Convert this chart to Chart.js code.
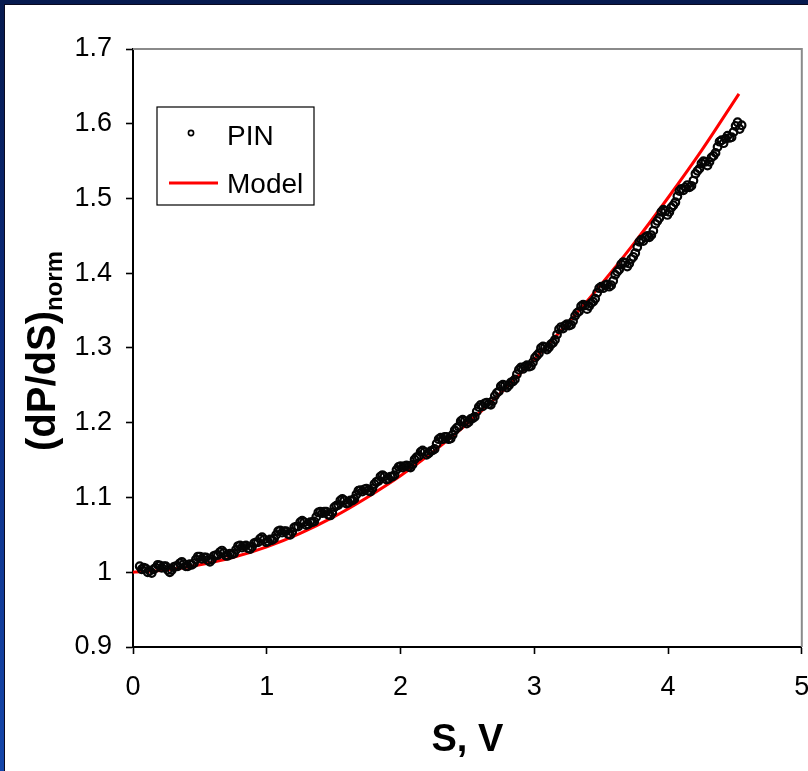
<!DOCTYPE html>
<html>
<head>
<meta charset="utf-8">
<script src="https://cdn.jsdelivr.net/npm/chart.js@4.4.1/dist/chart.umd.min.js"></script>
<style>
html,body{margin:0;padding:0;width:808px;height:771px;overflow:hidden;
  background:linear-gradient(180deg,#061a4f 0%,#0c2c80 45%,#1546aa 100%);}
#panel{position:absolute;left:4px;top:4px;width:804px;height:767px;background:#fff;
  border-left:1px solid #0a0a20;border-top:1px solid #0a0a20;box-sizing:border-box;}
#wrap{position:absolute;left:5px;top:5px;width:803px;height:766px;}
</style>
</head>
<body>
<div id="panel"></div>
<div id="wrap"><canvas id="c" width="803" height="766"></canvas></div>
<script>
// ---- data ----
const pinS = [
0.05,0.08,0.11,0.14,0.17,0.20,0.23,0.26,0.29,0.32,
0.35,0.38,0.41,0.44,0.47,0.50,0.53,0.56,0.59,0.62,
0.65,0.68,0.71,0.74,0.77,0.80,0.83,0.86,0.89,0.92,
0.95,0.98,1.01,1.04,1.07,1.10,1.13,1.16,1.19,1.22,
1.25,1.28,1.31,1.34,1.37,1.40,1.43,1.46,1.49,1.52,
1.55,1.58,1.61,1.64,1.67,1.70,1.73,1.76,1.79,1.82,
1.85,1.88,1.91,1.94,1.97,2.00,2.03,2.06,2.09,2.12,
2.15,2.18,2.21,2.24,2.27,2.30,2.33,2.36,2.39,2.42,
2.45,2.48,2.51,2.54,2.57,2.60,2.63,2.66,2.69,2.72,
2.75,2.78,2.81,2.84,2.87,2.90,2.93,2.96,2.99,3.02,
3.05,3.08,3.11,3.14,3.17,3.20,3.23,3.26,3.29,3.32,
3.35,3.38,3.41,3.44,3.47,3.50,3.53,3.56,3.59,3.62,
3.65,3.68,3.71,3.74,3.77,3.80,3.83,3.86,3.89,3.92,
3.95,3.98,4.01,4.04,4.07,4.10,4.13,4.16,4.19,4.22,
4.25,4.28,4.31,4.34,4.37,4.40,4.43,4.46,4.49,4.52,
4.55];
const pinValues = [
1.008,1.006,1.000,0.999,1.006,1.009,1.008,1.003,1.003,1.008,
1.012,1.011,1.008,1.010,1.017,1.021,1.020,1.016,1.017,1.023,
1.027,1.026,1.022,1.024,1.030,1.036,1.035,1.032,1.034,1.040,
1.045,1.044,1.041,1.043,1.050,1.056,1.055,1.051,1.054,1.061,
1.067,1.067,1.064,1.067,1.074,1.081,1.081,1.077,1.080,1.089,
1.096,1.096,1.093,1.096,1.104,1.110,1.111,1.109,1.112,1.121,
1.128,1.128,1.125,1.128,1.137,1.142,1.142,1.141,1.144,1.154,
1.161,1.161,1.159,1.163,1.172,1.180,1.181,1.178,1.184,1.193,
1.202,1.202,1.201,1.206,1.215,1.224,1.226,1.225,1.229,1.240,
1.249,1.250,1.250,1.255,1.265,1.274,1.275,1.275,1.281,1.290,
1.300,1.301,1.301,1.307,1.318,1.328,1.330,1.330,1.336,1.347,
1.356,1.357,1.356,1.362,1.374,1.382,1.384,1.382,1.390,1.402,
1.412,1.414,1.413,1.422,1.435,1.445,1.448,1.448,1.457,1.470,
1.482,1.483,1.482,1.491,1.503,1.513,1.515,1.515,1.524,1.537,
1.547,1.549,1.549,1.557,1.569,1.578,1.580,1.581,1.589,1.602,
1.598];
// second sweep of PIN samples (between the first ones)
const pinS2 = [
0.065,0.095,0.125,0.155,0.185,0.215,0.245,0.275,0.305,0.335,
0.365,0.395,0.425,0.455,0.485,0.515,0.545,0.575,0.605,0.635,
0.665,0.695,0.725,0.755,0.785,0.815,0.845,0.875,0.905,0.935,
0.965,0.995,1.025,1.055,1.085,1.115,1.145,1.175,1.205,1.235,
1.265,1.295,1.325,1.355,1.385,1.415,1.445,1.475,1.505,1.535,
1.565,1.595,1.625,1.655,1.685,1.715,1.745,1.775,1.805,1.835,
1.865,1.895,1.925,1.955,1.985,2.015,2.045,2.075,2.105,2.135,
2.165,2.195,2.225,2.255,2.285,2.315,2.345,2.375,2.405,2.435,
2.465,2.495,2.525,2.555,2.585,2.615,2.645,2.675,2.705,2.735,
2.765,2.795,2.825,2.855,2.885,2.915,2.945,2.975,3.005,3.035,
3.065,3.095,3.125,3.155,3.185,3.215,3.245,3.275,3.305,3.335,
3.365,3.395,3.425,3.455,3.485,3.515,3.545,3.575,3.605,3.635,
3.665,3.695,3.725,3.755,3.785,3.815,3.845,3.875,3.905,3.935,
3.965,3.995,4.025,4.055,4.085,4.115,4.145,4.175,4.205,4.235,
4.265,4.295,4.325,4.355,4.385,4.415,4.445,4.475,4.505,4.535];
const pinValues2 = [
1.004,1.005,1.002,1.004,1.010,1.006,1.008,1.000,1.007,1.008,
1.014,1.008,1.011,1.012,1.021,1.018,1.020,1.014,1.022,1.023,
1.029,1.022,1.025,1.025,1.035,1.033,1.036,1.031,1.039,1.040,
1.047,1.040,1.044,1.045,1.055,1.053,1.055,1.050,1.060,1.061,
1.069,1.063,1.067,1.068,1.080,1.079,1.081,1.076,1.087,1.090,
1.098,1.092,1.096,1.098,1.109,1.108,1.112,1.108,1.118,1.122,
1.130,1.124,1.128,1.130,1.141,1.140,1.143,1.140,1.151,1.155,
1.163,1.157,1.162,1.165,1.178,1.178,1.181,1.179,1.190,1.195,
1.204,1.199,1.205,1.208,1.221,1.222,1.227,1.224,1.236,1.242,
1.251,1.247,1.254,1.258,1.271,1.272,1.277,1.276,1.287,1.293,
1.302,1.298,1.305,1.311,1.325,1.326,1.332,1.331,1.343,1.349,
1.358,1.352,1.360,1.366,1.380,1.380,1.385,1.384,1.398,1.405,
1.415,1.409,1.419,1.427,1.442,1.443,1.450,1.451,1.466,1.474,
1.485,1.478,1.488,1.495,1.510,1.511,1.518,1.517,1.533,1.540,
1.550,1.544,1.555,1.561,1.576,1.574,1.584,1.582,1.597,1.593];
const modelS = [0,0.25,0.5,0.75,1,1.25,1.5,1.75,2,2.25,2.5,2.75,3,3.25,3.5,3.75,4,4.25,4.53];
const modelValues = [1.000,1.003,1.010,1.020,1.034,1.052,1.074,1.100,1.129,1.162,1.199,1.240,1.285,1.333,1.385,1.441,1.501,1.564,1.640];
const xTicks = [0,1,2,3,4,5];
const xTickLabels = ['0','1','2','3','4','5'];
const yTicks = [0.9,1.0,1.1,1.2,1.3,1.4,1.5,1.6,1.7];
const yTickLabels = ['0.9','1','1.1','1.2','1.3','1.4','1.5','1.6','1.7'];
const seriesNames = ['PIN','Model'];
const xTitle = 'S, V';
const yTitleMain = '(dP/dS)';
const yTitleSub = 'norm';

const FONT = "'Liberation Sans', Arial, sans-serif";

const framePlugin = {
  id: 'frame',
  afterDraw(chart) {
    const {ctx, chartArea: a} = chart;
    ctx.save();
    ctx.strokeStyle = '#8a8a8a';
    ctx.lineWidth = 2;
    ctx.beginPath();
    ctx.moveTo(a.left, a.top);
    ctx.lineTo(a.right, a.top);
    ctx.lineTo(a.right, a.bottom);
    ctx.stroke();
    ctx.fillStyle = '#000';
    ctx.translate(50, 346);
    ctx.rotate(-Math.PI / 2);
    ctx.font = 'bold 40px ' + FONT;
    const w1 = ctx.measureText(yTitleMain).width;
    ctx.font = 'bold 24px ' + FONT;
    const w2 = ctx.measureText(yTitleSub).width;
    const start = -(w1 + w2) / 2;
    ctx.textBaseline = 'alphabetic';
    ctx.textAlign = 'left';
    ctx.font = 'bold 40px ' + FONT;
    ctx.fillText(yTitleMain, start, 0);
    ctx.font = 'bold 24px ' + FONT;
    ctx.fillText(yTitleSub, start + w1, 7);
    ctx.restore();

    ctx.save();
    ctx.strokeStyle = '#000';
    ctx.lineWidth = 1.2;
    ctx.fillStyle = '#fff';
    ctx.fillRect(152, 102, 157, 98);
    ctx.strokeRect(152, 102, 157, 98);
    ctx.beginPath();
    ctx.lineWidth = 1.6;
    ctx.arc(186, 128, 2.6, 0, Math.PI * 2);
    ctx.stroke();
    ctx.strokeStyle = '#ff0000';
    ctx.lineWidth = 3;
    ctx.beginPath();
    ctx.moveTo(164, 178);
    ctx.lineTo(213, 178);
    ctx.stroke();
    ctx.fillStyle = '#000';
    ctx.font = '28px ' + FONT;
    ctx.textBaseline = 'alphabetic';
    ctx.fillText(chart.data.datasets[0].label, 222, 140);
    ctx.fillText(chart.data.datasets[1].label, 222, 188);
    ctx.restore();
  }
};

const pinPoints = pinS.map((s, i) => ({x: s, y: pinValues[i]}))
  .concat(pinS2.map((s, i) => ({x: s, y: pinValues2[i]})));

new Chart(document.getElementById('c'), {
  type: 'scatter',
  data: {
    datasets: [
      {
        label: seriesNames[0],
        data: pinPoints,
        showLine: false,
        pointStyle: 'circle',
        pointRadius: 3.8,
        pointBorderWidth: 2.2,
        borderColor: '#000',
        backgroundColor: 'rgba(0,0,0,0)',
        pointBackgroundColor: 'rgba(0,0,0,0)',
        pointBorderColor: '#050505'
      },
      {
        label: seriesNames[1],
        type: 'line',
        data: modelS.map((s, i) => ({x: s, y: modelValues[i]})),
        showLine: true,
        borderColor: '#ff0000',
        borderWidth: 3,
        pointRadius: 0,
        fill: false,
        cubicInterpolationMode: 'monotone'
      }
    ]
  },
  options: {
    responsive: false,
    animation: false,
    devicePixelRatio: 1,
    layout: {padding: {top: 44, right: 3, left: 0, bottom: 0}},
    plugins: {legend: {display: false}, tooltip: {enabled: false}},
    scales: {
      x: {
        type: 'linear', min: 0, max: 5,
        afterBuildTicks: s => { s.ticks = xTicks.map(v => ({value: v})); },
        afterFit: s => { s.height = 124; s.paddingRight = 0; s.paddingLeft = 0; },
        ticks: {
          callback: (v, i) => xTickLabels[i],
          color: '#000', font: {family: FONT, size: 27}, padding: 17, maxRotation: 0
        },
        grid: {display: true, drawOnChartArea: false, drawTicks: true, tickLength: 7, tickColor: '#000', tickWidth: 1.6},
        border: {display: true, color: '#000', width: 2},
        title: {display: true, text: xTitle, color: '#000',
          font: {family: FONT, size: 38, weight: 'bold'}, padding: {top: 0, bottom: 8}}
      },
      y: {
        type: 'linear', min: 0.9, max: 1.7,
        afterBuildTicks: s => { s.ticks = yTicks.map(v => ({value: v})); },
        afterFit: s => { s.width = 128; s.paddingTop = 0; s.paddingBottom = 0; },
        ticks: {
          callback: (v, i) => yTickLabels[i],
          color: '#000', font: {family: FONT, size: 27}, padding: 14
        },
        grid: {display: true, drawOnChartArea: false, drawTicks: true, tickLength: 7, tickColor: '#000', tickWidth: 1.6},
        border: {display: true, color: '#000', width: 2}
      }
    }
  },
  plugins: [framePlugin]
});
</script>
</body>
</html>
